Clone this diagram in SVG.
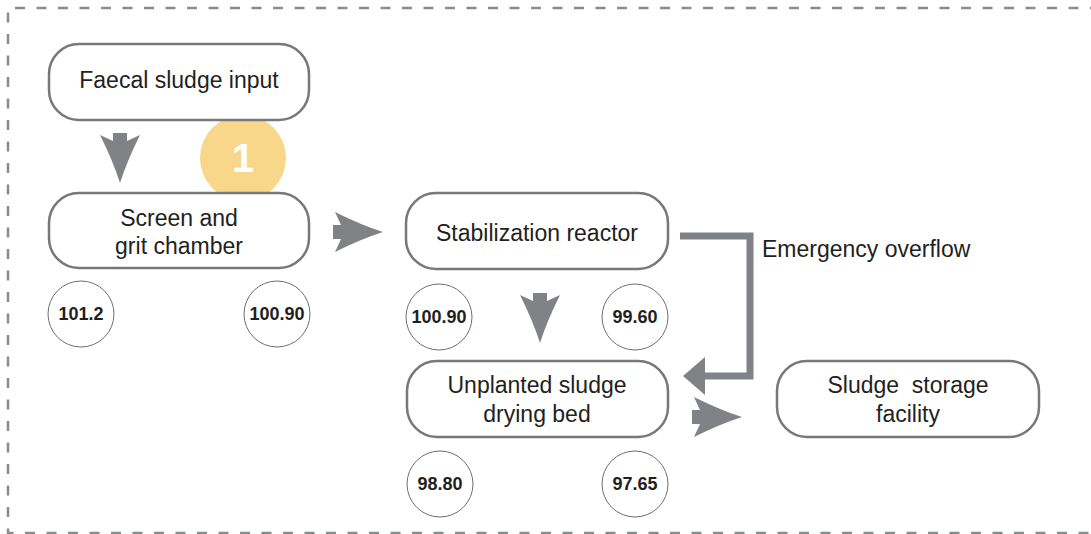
<svg xmlns="http://www.w3.org/2000/svg" xmlns:xlink="http://www.w3.org/1999/xlink" width="1091" height="534" viewBox="0 0 1091 534">
<style>
.node{fill:#fff;stroke:#77787b;stroke-width:2.5}
.lbl{font-family:"Liberation Sans",Arial,sans-serif;font-size:23px;fill:#231f20;text-anchor:middle}
.num{fill:#fff;stroke:#6d6e71;stroke-width:1}
.numt{font-family:"Liberation Sans",Arial,sans-serif;font-size:18px;font-weight:bold;fill:#231f20;text-anchor:middle}
.arr{fill:#808285}
.border{fill:none;stroke:#8a8b8d;stroke-width:2.5;stroke-dasharray:10 11.5}
</style>
<defs>
<path id="dart" d="M -7,-50 L 7,-50 L 7,-42 L 20,-48 Q 7,-22 0,0 Q -7,-22 -20,-48 L -7,-42 Z"/>
</defs>
<rect width="1091" height="534" fill="#fff"/>
<path class="border" d="M 1100,8 L 8,8 L 8,533 L 1100,533"/>

<g id="badge1">
<circle cx="243" cy="158" r="43" fill="#f9d78a"/>
<text x="243" y="172" font-family="Liberation Sans,Arial,sans-serif" font-size="40" font-weight="bold" fill="#fff" text-anchor="middle">1</text>
</g>

<g id="connectors">
<use xlink:href="#dart" class="arr" transform="translate(120,183)"/>
<use xlink:href="#dart" class="arr" transform="translate(383,232) rotate(-90)"/>
<use xlink:href="#dart" class="arr" transform="translate(540,343)"/>
<use xlink:href="#dart" class="arr" transform="translate(742,417) rotate(-90)"/>
<polyline points="680,236 750,236 750,376 703,376" fill="none" stroke="#808285" stroke-width="7"/>
<polygon class="arr" points="683,376 705,357 705,395"/>
<text class="lbl" x="762" y="257" style="text-anchor:start">Emergency overflow</text>
</g>

<g id="faecal-input">
<rect class="node" x="49" y="44" width="260" height="76" rx="30"/>
<text class="lbl" x="179" y="88">Faecal sludge input</text>
</g>

<g id="screen-grit">
<rect class="node" x="49" y="193" width="260" height="75" rx="30"/>
<text class="lbl" x="179" y="226">Screen and</text>
<text class="lbl" x="179" y="254">grit chamber</text>
</g>

<g id="stabilization">
<rect class="node" x="406" y="193" width="262" height="76" rx="30"/>
<text class="lbl" x="537" y="241">Stabilization reactor</text>
</g>

<g id="drying-bed">
<rect class="node" x="407" y="361" width="261" height="76" rx="30"/>
<text class="lbl" x="537" y="393">Unplanted sludge</text>
<text class="lbl" x="537" y="422">drying bed</text>
</g>

<g id="storage">
<rect class="node" x="777" y="361" width="262" height="76" rx="30"/>
<text class="lbl" x="908" y="393" xml:space="preserve">Sludge  storage</text>
<text class="lbl" x="908" y="422">facility</text>
</g>

<g id="v1"><circle class="num" cx="81" cy="314" r="33"/><text class="numt" x="81" y="320">101.2</text></g>
<g id="v2"><circle class="num" cx="277" cy="314" r="33"/><text class="numt" x="277" y="320">100.90</text></g>
<g id="v3"><circle class="num" cx="439" cy="317" r="33"/><text class="numt" x="439" y="323">100.90</text></g>
<g id="v4"><circle class="num" cx="635" cy="317" r="33"/><text class="numt" x="635" y="323">99.60</text></g>
<g id="v5"><circle class="num" cx="440" cy="484" r="33"/><text class="numt" x="440" y="490">98.80</text></g>
<g id="v6"><circle class="num" cx="635" cy="484" r="33"/><text class="numt" x="635" y="490">97.65</text></g>
</svg>
